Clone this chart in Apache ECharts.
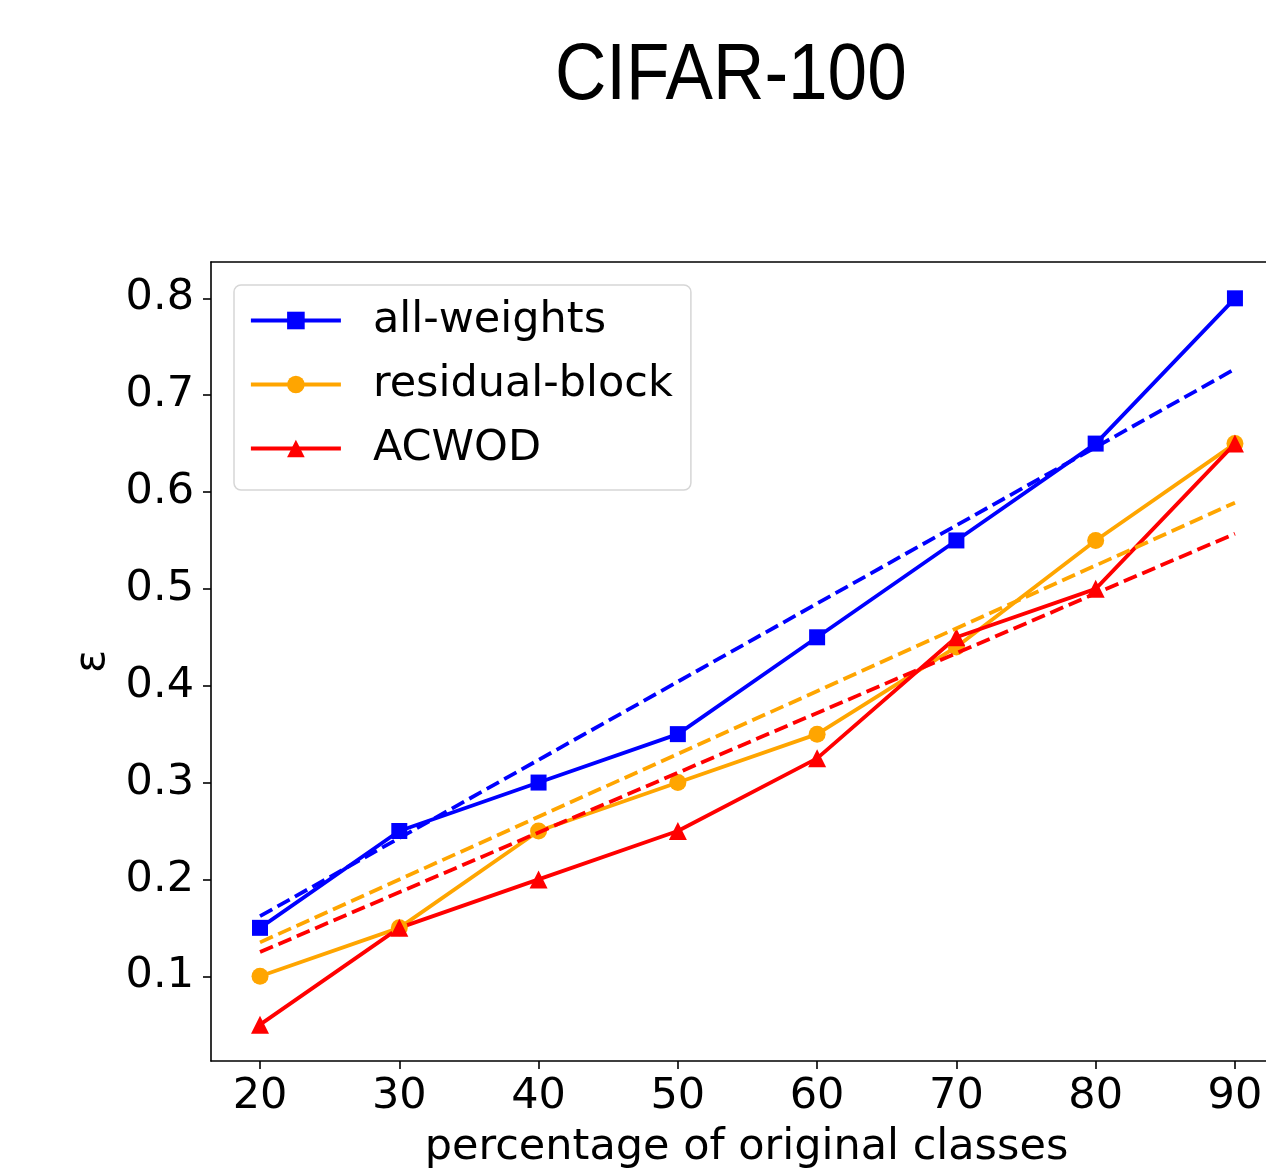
<!DOCTYPE html>
<html>
<head>
<meta charset="utf-8">
<script src="https://cdn.jsdelivr.net/npm/echarts@6/dist/echarts.min.js"></script>
<style>
html,body{margin:0;padding:0;background:#fff;}
#chart{width:1266px;height:1171px;}
</style>
</head>
<body>
<div id="chart"></div>
<script>
// ---- data ----
const xValues = [20, 30, 40, 50, 60, 70, 80, 90];
const xTicks = [20, 30, 40, 50, 60, 70, 80, 90];
const yTicks = [0.1, 0.2, 0.3, 0.4, 0.5, 0.6, 0.7, 0.8];
const allWeights = [0.15, 0.25, 0.30, 0.35, 0.45, 0.55, 0.65, 0.80];
const residualBlock = [0.10, 0.15, 0.25, 0.30, 0.35, 0.44, 0.55, 0.65];
const acwod = [0.05, 0.15, 0.20, 0.25, 0.325, 0.45, 0.50, 0.65];
// trend (dashed) lines: [x, y] endpoints
const trendX = [20, 90];
const allWeightsTrend = [0.162, 0.727];
const residualBlockTrend = [0.135, 0.589];
const acwodTrend = [0.125, 0.557];
const seriesNames = ['all-weights', 'residual-block', 'ACWOD'];
const seriesColors = ['#0000ff', '#ffa500', '#ff0000'];

const pairs = (xs, ys) => xs.map((x, i) => [x, ys[i]]);
const axisFont = '"DejaVu Sans", sans-serif';
const FS = 43;

const chart = echarts.init(document.getElementById('chart'), null, {renderer: 'canvas'});

function mainSeries(name, data, color, symbol, size) {
  return {
    name: name, type: 'line', data: pairs(xValues, data),
    symbol: symbol, symbolSize: size, showSymbol: true,
    lineStyle: {color: color, width: 3.8},
    itemStyle: {color: color, borderWidth: 0},
    emphasis: {disabled: true}, animation: false, z: 3
  };
}
function trendSeries(data, color) {
  return {
    type: 'line', data: pairs(trendX, data), symbol: 'none',
    lineStyle: {color: color, width: 3.8, type: [14, 6]},
    emphasis: {disabled: true}, animation: false, z: 4, silent: true
  };
}

const option = {
  backgroundColor: '#fff',
  animation: false,
  graphic: [{
    type: 'text', x: 555, y: 38, scaleX: 0.9, scaleY: 1,
    style: {text: 'CIFAR-100', font: '79px "Liberation Sans", sans-serif', fill: '#000'}
  }],
  grid: {
    left: 211, top: 262, right: 0, height: 799,
    outerBoundsMode: 'none', containLabel: false,
    show: false
  },
  legend: {
    data: seriesNames,
    orient: 'vertical', left: 234, top: 285,
    padding: [14, 18, 20, 15],
    itemWidth: 90, itemHeight: 22, itemGap: 21,
    backgroundColor: 'rgba(255,255,255,0.8)',
    borderColor: '#d6d6d6', borderWidth: 1.5, borderRadius: 7,
    lineStyle: {width: 3.8},
    textStyle: {fontFamily: axisFont, fontSize: FS, color: '#000', lineHeight: 42, padding: [0, 0, 0, 27]},
    selectedMode: false
  },
  xAxis: [{
    type: 'value', min: 16.48, max: 92.23,
    name: 'percentage of original classes', nameLocation: 'middle', nameGap: 65,
    nameTextStyle: {fontFamily: axisFont, fontSize: FS, color: '#000', padding: [0, 0, 0, 16]},
    axisLine: {show: true, onZero: false, lineStyle: {color: '#000', width: 1.6}},
    axisTick: {show: true, inside: false, length: 8, lineStyle: {color: '#000', width: 1.6}, customValues: xTicks},
    axisLabel: {fontFamily: axisFont, fontSize: FS, color: '#000', margin: 14, customValues: xTicks},
    splitLine: {show: false}
  }, {
    type: 'value', min: 16.48, max: 92.23, position: 'top',
    axisLine: {show: true, onZero: false, lineStyle: {color: '#000', width: 1.6}},
    axisTick: {show: false}, axisLabel: {show: false}, splitLine: {show: false}
  }],
  yAxis: {
    type: 'value', min: 0.0125, max: 0.8375,
    name: 'ε', nameLocation: 'middle', nameGap: 94, nameRotate: 90,
    nameTextStyle: {fontFamily: axisFont, fontSize: FS, color: '#000'},
    axisLine: {show: true, onZero: false, lineStyle: {color: '#000', width: 1.6}},
    axisTick: {show: true, inside: false, length: 8, lineStyle: {color: '#000', width: 1.6}, customValues: yTicks},
    axisLabel: {fontFamily: axisFont, fontSize: FS, color: '#000', margin: 17, customValues: yTicks,
      formatter: v => v.toFixed(1)},
    splitLine: {show: false}
  },
  series: [
    mainSeries(seriesNames[0], allWeights, seriesColors[0], 'rect', 16),
    mainSeries(seriesNames[1], residualBlock, seriesColors[1], 'circle', 17),
    mainSeries(seriesNames[2], acwod, seriesColors[2], 'triangle', 18),
    trendSeries(allWeightsTrend, seriesColors[0]),
    trendSeries(residualBlockTrend, seriesColors[1]),
    trendSeries(acwodTrend, seriesColors[2])
  ]
};
chart.setOption(option);
</script>
</body>
</html>
